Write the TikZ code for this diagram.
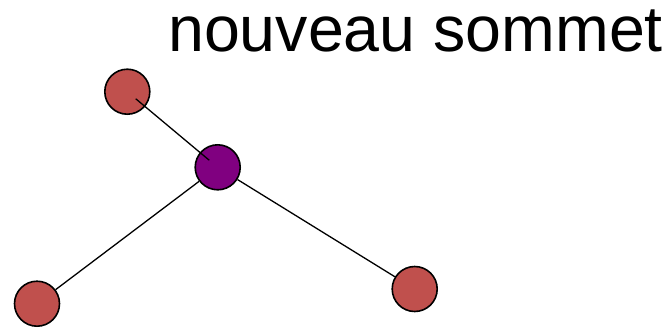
\documentclass[tikz,border=0pt]{standalone}
\usepackage{fontspec}
\setmainfont{Liberation Sans}
\definecolor{rougesommet}{HTML}{C0504D}
\definecolor{violet}{HTML}{800080}
\tikzset{
  sommet/.style={circle,draw,line width=1.6pt,minimum size=45pt,inner sep=0pt,fill=rougesommet},
  arete/.style={line width=1.3pt}
}
\begin{document}
\begin{tikzpicture}[x=1pt,y=-1pt]
    \useasboundingbox (0,0) rectangle (667,327);
    % sommets
    \node[sommet] (s1) at (127.3,91.7) {};
    \node[sommet] (s2) at (37,303.7) {};
    \node[sommet] (s3) at (414.7,289) {};
    \node[sommet,fill=violet] (nv) at (217.7,167.3) {};
    % aretes
    \draw[arete] (nv) -- (s2);
    \draw[arete] (nv) -- (s3);
    \draw[arete,shorten <=11pt,shorten >=11pt] (s1.center) -- (nv.center);
    \node[anchor=base west,inner sep=0pt,font=\fontsize{64.5pt}{70pt}\selectfont] (titre) at (168,51.7) {nouveau sommet};
  \end{tikzpicture}
\end{document}
